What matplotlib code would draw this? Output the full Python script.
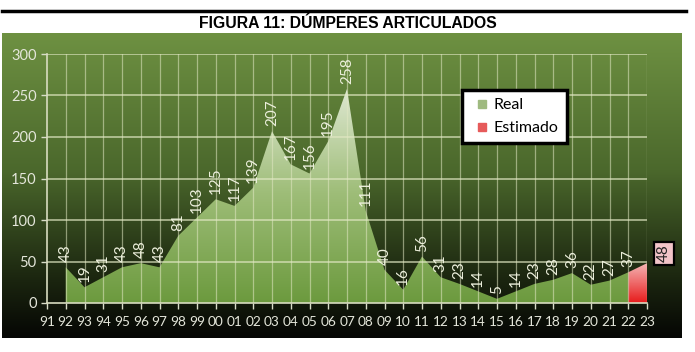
import matplotlib
matplotlib.use("Agg")
import matplotlib.pyplot as plt
import numpy as np
from matplotlib.colors import LinearSegmentedColormap
from matplotlib.lines import Line2D

# data
years = ['91', '92', '93', '94', '95', '96', '97', '98', '99', '00', '01', '02',
         '03', '04', '05', '06', '07', '08', '09', '10', '11', '12', '13', '14',
         '15', '16', '17', '18', '19', '20', '21', '22', '23']
real_years = years[1:32]
real_values = [43, 19, 31, 43, 48, 43, 81, 103, 125, 117, 139, 207, 167, 156, 195,
               258, 111, 40, 16, 56, 31, 23, 14, 5, 14, 23, 28, 36, 22, 27, 37]
est_years = ['22', '23']
est_values = [37, 48]

plt.rcParams['font.family'] = ['Lato', 'DejaVu Sans']

fig = plt.figure(figsize=(6.95, 3.52), dpi=100)
W, H = 695, 352

def fx(px):
    return px / W

def fy(py):
    return 1 - py / H

# top rule and title
fig.add_artist(plt.Line2D([fx(2), fx(686)], [fy(11), fy(11)], color='black', lw=2.5))
fig.text(0.5, fy(28.5), 'FIGURA 11: DÚMPERES ARTICULADOS', ha='center', va='baseline',
         fontsize=11.3, fontweight='bold', family=['Liberation Sans', 'DejaVu Sans'],
         zorder=10)

# panel with green-to-black gradient
bg = fig.add_axes([fx(2), fy(338), fx(682) - fx(2), fy(33) - fy(338)])
bg_cmap = LinearSegmentedColormap.from_list('bg', [(0, '#050604'), (0.2, '#1c2710'),
                                                   (0.55, '#4b682c'), (1, '#6e9142')])
bg.imshow(np.linspace(0, 1, 256).reshape(-1, 1), aspect='auto', cmap=bg_cmap,
          origin='lower', extent=[0, 1, 0, 1])
bg.set_axis_off()

ax = fig.add_axes([fx(47), fy(303), fx(647) - fx(47), fy(54) - fy(303)])
ax.patch.set_alpha(0)

x_all = np.arange(len(years))
xr = np.array([years.index(y) for y in real_years])
xe = np.array([years.index(y) for y in est_years])

# real area with vertical gradient
area = ax.fill_between(xr, real_values, 0, color='none', zorder=2)
g_cmap = LinearSegmentedColormap.from_list('g', ['#6c9a3e', '#9ebd78', '#e2ead6'])
img = ax.imshow(np.linspace(0, 1, 256).reshape(-1, 1), aspect='auto', cmap=g_cmap,
                origin='lower', extent=[0, 32, 0, 265], zorder=2)
img.set_clip_path(area.get_paths()[0], transform=ax.transData)

# estimated area with red gradient
earea = ax.fill_between(xe, est_values, 0, color='none', zorder=2)
r_cmap = LinearSegmentedColormap.from_list('r', ['#e81c1c', '#f4b4b4'])
eimg = ax.imshow(np.linspace(0, 1, 64).reshape(-1, 1), aspect='auto', cmap=r_cmap,
                 origin='lower', extent=[31, 32, 0, 48], zorder=2)
eimg.set_clip_path(earea.get_paths()[0], transform=ax.transData)

grid_c = '#e2e8c4'
for xv in x_all[1:]:
    ax.axvline(xv, color=grid_c, lw=0.9, alpha=0.55, zorder=3)
for yv in [50, 100, 150, 200, 250, 300]:
    ax.axhline(yv, color=grid_c, lw=1.1, alpha=0.8, zorder=3)

lab_c = '#ecefdc'
for xv, v in zip(xr, real_values):
    ax.annotate(str(v), (xv, v), xytext=(0, 3.5), textcoords='offset points',
                rotation=90, ha='center', va='bottom', color=lab_c, fontsize=11,
                zorder=4)
ax.annotate(str(est_values[-1]), (xe[-1], est_values[-1]), xytext=(12, 7),
            textcoords='offset points', rotation=90, ha='center', va='center',
            color='#222222', fontsize=11, zorder=5,
            bbox=dict(boxstyle='square,pad=0.2', fc='#f2c4c8', ec='black', lw=1.6))

ax.set_xlim(0, 32)
ax.set_ylim(0, 300)
ax.set_xticks(x_all)
ax.set_xticklabels(years)
ax.set_yticks([0, 50, 100, 150, 200, 250, 300])
ax.tick_params(axis='both', colors='#d8dcc8', labelcolor='#e4e6da', labelsize=10.5,
               length=4, width=1)
ax.tick_params(axis='x', pad=5, labelsize=9.8)
for s in ['top', 'right']:
    ax.spines[s].set_visible(False)
for s in ['left', 'bottom']:
    ax.spines[s].set_color('#d8dcc0')
    ax.spines[s].set_linewidth(1.2)
    ax.spines[s].set_zorder(4)

# legend
handles = [Line2D([], [], ls='none', marker='s', ms=6, mfc='#9fba80', mec='#9fba80'),
           Line2D([], [], ls='none', marker='s', ms=6, mfc='#e65a5a', mec='#e65a5a')]
leg = ax.legend(handles, ['Real', 'Estimado'], loc='upper left',
                bbox_to_anchor=((462 - 47) / 600, (303 - 90) / 249), fontsize=11.5,
                frameon=True, fancybox=False, handlelength=1.5,
                handletextpad=0.0, borderpad=0.5, labelspacing=0.55,
                borderaxespad=0)
leg.get_frame().set_edgecolor('black')
leg.get_frame().set_linewidth(2.5)
leg.get_frame().set_facecolor('white')
leg.get_frame().set_alpha(1)
leg.set_zorder(6)

fig.savefig('out.png', dpi=100)
